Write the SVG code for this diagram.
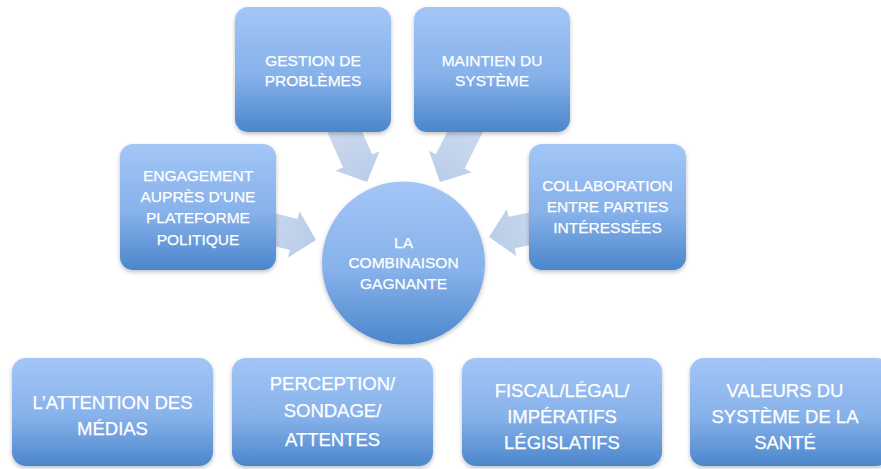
<svg xmlns="http://www.w3.org/2000/svg" width="881" height="469" viewBox="0 0 881 469">
<style>
.t{font-family:"Liberation Sans",Arial,sans-serif;fill:#fff;stroke:#fff;stroke-width:0.25;text-anchor:middle;font-size:15.5px}
.b{font-size:18.5px}
.arr{fill:url(#ag);opacity:0.85}
</style>
<defs>
<linearGradient id="g" x1="0" y1="0" x2="0" y2="1">
<stop offset="0" stop-color="#a3c6f6"/>
<stop offset="0.55" stop-color="#86b1ea"/>
<stop offset="1" stop-color="#4b86cc"/>
</linearGradient>
<linearGradient id="ag" x1="0" y1="0" x2="1" y2="0">
<stop offset="0" stop-color="#c2d4ec"/>
<stop offset="1" stop-color="#adc4e4"/>
</linearGradient>
<filter id="sh" x="-10%" y="-10%" width="120%" height="125%">
<feDropShadow dx="0" dy="2" stdDeviation="2" flood-color="#000" flood-opacity="0.25"/>
</filter>
<polygon id="arrow" points="0,0 -23,-24 -23,-16 -65,-16 -65,16 -23,16 -23,24"/>
</defs>
<rect width="881" height="469" fill="#fff"/>
<g id="connectors">
<use href="#arrow" class="arr" transform="translate(367,182) rotate(66)"/>
<use href="#arrow" class="arr" transform="translate(440,182) rotate(116.6)"/>
<use href="#arrow" class="arr" transform="translate(316,240) rotate(14)"/>
<use href="#arrow" class="arr" transform="translate(489,237) rotate(168.7)"/>
</g>
<g id="gestion">
<rect x="235" y="7" width="156" height="125" rx="13" fill="url(#g)" filter="url(#sh)"/>
<text class="t" x="313" y="65.5">GESTION DE</text>
<text class="t" x="313" y="85.5">PROBLÈMES</text>
</g>
<g id="maintien">
<rect x="414" y="7" width="156" height="125" rx="13" fill="url(#g)" filter="url(#sh)"/>
<text class="t" x="492" y="65.5">MAINTIEN DU</text>
<text class="t" x="492" y="85.5">SYSTÈME</text>
</g>
<g id="engagement">
<rect x="120" y="144" width="156" height="126" rx="13" fill="url(#g)" filter="url(#sh)"/>
<text class="t" x="198" y="180.5">ENGAGEMENT</text>
<text class="t" x="198" y="201.5">AUPRÈS D'UNE</text>
<text class="t" x="198" y="222.5">PLATEFORME</text>
<text class="t" x="198" y="244.5">POLITIQUE</text>
</g>
<g id="collaboration">
<rect x="529" y="144" width="157" height="126" rx="13" fill="url(#g)" filter="url(#sh)"/>
<text class="t" x="607.5" y="190.5">COLLABORATION</text>
<text class="t" x="607.5" y="211.5">ENTRE PARTIES</text>
<text class="t" x="607.5" y="232.5">INTÉRESSÉES</text>
</g>
<g id="combinaison">
<circle cx="403.5" cy="263" r="81.5" fill="url(#g)" filter="url(#sh)"/>
<text class="t" x="403.5" y="247.5">LA</text>
<text class="t" x="403.5" y="268">COMBINAISON</text>
<text class="t" x="403.5" y="288.5">GAGNANTE</text>
</g>
<g id="medias">
<rect x="12" y="358" width="201" height="108" rx="14" fill="url(#g)" filter="url(#sh)"/>
<text class="t b" x="112.5" y="408.5">L’ATTENTION DES</text>
<text class="t b" x="112.5" y="434.5">MÉDIAS</text>
</g>
<g id="perception">
<rect x="232" y="358" width="201" height="108" rx="14" fill="url(#g)" filter="url(#sh)"/>
<text class="t b" x="332.5" y="389.5">PERCEPTION/</text>
<text class="t b" x="332.5" y="416.5">SONDAGE/</text>
<text class="t b" x="332.5" y="446">ATTENTES</text>
</g>
<g id="fiscal">
<rect x="462" y="358" width="200" height="108" rx="14" fill="url(#g)" filter="url(#sh)"/>
<text class="t b" x="562" y="396.5">FISCAL/LÉGAL/</text>
<text class="t b" x="562" y="423">IMPÉRATIFS</text>
<text class="t b" x="562" y="448.5">LÉGISLATIFS</text>
</g>
<g id="valeurs">
<rect x="690" y="358" width="200" height="108" rx="14" fill="url(#g)" filter="url(#sh)"/>
<text class="t b" x="785" y="396.5">VALEURS DU</text>
<text class="t b" x="785" y="423">SYSTÈME DE LA</text>
<text class="t b" x="785" y="448.5">SANTÉ</text>
</g>
</svg>
